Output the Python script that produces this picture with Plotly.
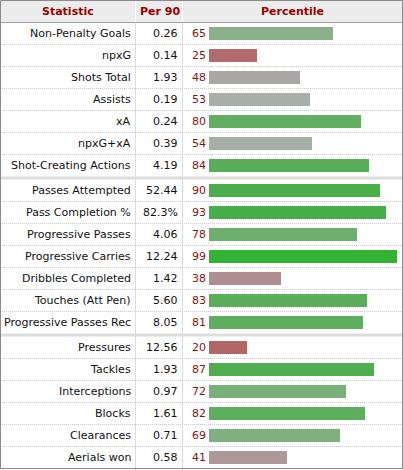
import plotly.graph_objects as go

# ---- data ----
stats = ["Non-Penalty Goals", "npxG", "Shots Total", "Assists", "xA", "npxG+xA",
         "Shot-Creating Actions", "Passes Attempted", "Pass Completion %",
         "Progressive Passes", "Progressive Carries", "Dribbles Completed",
         "Touches (Att Pen)", "Progressive Passes Rec", "Pressures", "Tackles",
         "Interceptions", "Blocks", "Clearances", "Aerials won"]
per90 = ["0.26", "0.14", "1.93", "0.19", "0.24", "0.39", "4.19", "52.44", "82.3%",
         "4.06", "12.24", "1.42", "5.60", "8.05", "12.56", "1.93", "0.97", "1.61",
         "0.71", "0.58"]
percentile = [65, 25, 48, 53, 80, 54, 84, 90, 93, 78, 99, 38, 83, 81, 20, 87, 72,
              82, 69, 41]
group = [0] * 7 + [1] * 7 + [2] * 6
headers = ["Statistic", "Per 90", "Percentile"]

# ---- styles ----
bar_colors = ["#8aaf8a", "#b06c6c", "#aba6a6", "#a8afa8", "#62af62", "#a5aea5",
              "#58ae58", "#4aaf4a", "#46af4a", "#6daf6d", "#33b333", "#ae8e8e",
              "#5baf5b", "#5fae5f", "#b06666", "#50ae50", "#79af79", "#5caf5c",
              "#80af80", "#ae9999"]

W, H = 403, 470
HEADER_H = 22.5
ROW_H = 22
GAP = 3
FONT = "DejaVu Sans"
FS = 11

def row_top(i, g):
    return HEADER_H + ROW_H * i + GAP * g

centers = [row_top(i, g) + ROW_H / 2 for i, g in enumerate(group)]

def px(x):
    return x / W

fig = go.Figure()
fig.add_trace(go.Bar(
    x=percentile, y=centers, orientation="h", width=12.5,
    marker=dict(color=bar_colors, line=dict(width=0)),
    hoverinfo="skip", showlegend=False,
))

shapes = []
# header background
shapes.append(dict(type="rect", xref="paper", yref="y", x0=0, x1=1, y0=0, y1=HEADER_H,
                   fillcolor="#ececec", line=dict(width=0), layer="below"))
# row separators
for i, g in enumerate(group):
    y_end = row_top(i, g) + ROW_H
    if i == len(group) - 1:
        continue
    if group[i + 1] != g:
        shapes.append(dict(type="rect", xref="paper", yref="y", x0=0, x1=1,
                           y0=y_end, y1=y_end + GAP, fillcolor="#dcdcdc",
                           line=dict(width=0), layer="below"))
    else:
        shapes.append(dict(type="line", xref="paper", yref="y", x0=0, x1=1,
                           y0=y_end, y1=y_end,
                           line=dict(color="#c8c8c8", width=1, dash="1px,1px"),
                           layer="below"))
# column separators
for cx in (135.5, 182.5):
    shapes.append(dict(type="line", xref="paper", yref="y", x0=px(cx), x1=px(cx),
                       y0=HEADER_H, y1=H, line=dict(color="#dcdcdc", width=1),
                       layer="below"))
    shapes.append(dict(type="line", xref="paper", yref="y", x0=px(cx), x1=px(cx),
                       y0=0, y1=HEADER_H, line=dict(color="#fafafa", width=1),
                       layer="below"))
# header bottom line
shapes.append(dict(type="line", xref="paper", yref="y", x0=0, x1=1, y0=HEADER_H,
                   y1=HEADER_H, line=dict(color="#a0a0a0", width=1)))
# outer border
shapes.append(dict(type="rect", xref="paper", yref="y", x0=px(0.5), x1=px(402.5),
                   y0=0.5, y1=468.5, line=dict(color="#8a8a8a", width=1),
                   fillcolor="rgba(0,0,0,0)"))

ann = []
for text, cx in zip(headers, (68, 159.5, 292)):
    ann.append(dict(text="<b>%s</b>" % text, xref="paper", yref="y", x=px(cx),
                    y=HEADER_H / 2, xanchor="center", yanchor="middle",
                    showarrow=False, font=dict(family=FONT, size=FS, color="#990000")))
for s, v, p, c in zip(stats, per90, percentile, centers):
    ann.append(dict(text=s, xref="paper", yref="y", x=px(133), y=c,
                    xanchor="right", yanchor="middle", showarrow=False,
                    font=dict(family=FONT, size=FS, color="#111111")))
    ann.append(dict(text=v, xref="paper", yref="y", x=px(180), y=c,
                    xanchor="right", yanchor="middle", showarrow=False,
                    font=dict(family=FONT, size=FS, color="#111111")))
    ann.append(dict(text=str(p), xref="paper", yref="y", x=px(190), y=c,
                    xanchor="left", yanchor="middle", showarrow=False,
                    font=dict(family=FONT, size=FS, color="#8b1010")))

fig.update_layout(
    width=W, height=H, margin=dict(l=0, r=0, t=0, b=0),
    paper_bgcolor="white", plot_bgcolor="rgba(0,0,0,0)",
    xaxis=dict(domain=[px(209), px(399)], range=[0, 100], visible=False,
               fixedrange=True),
    yaxis=dict(domain=[0, 1], range=[H, 0], visible=False, fixedrange=True),
    shapes=shapes, annotations=ann, bargap=0,
)
fig.write_html("out.html", config={"displayModeBar": False})
